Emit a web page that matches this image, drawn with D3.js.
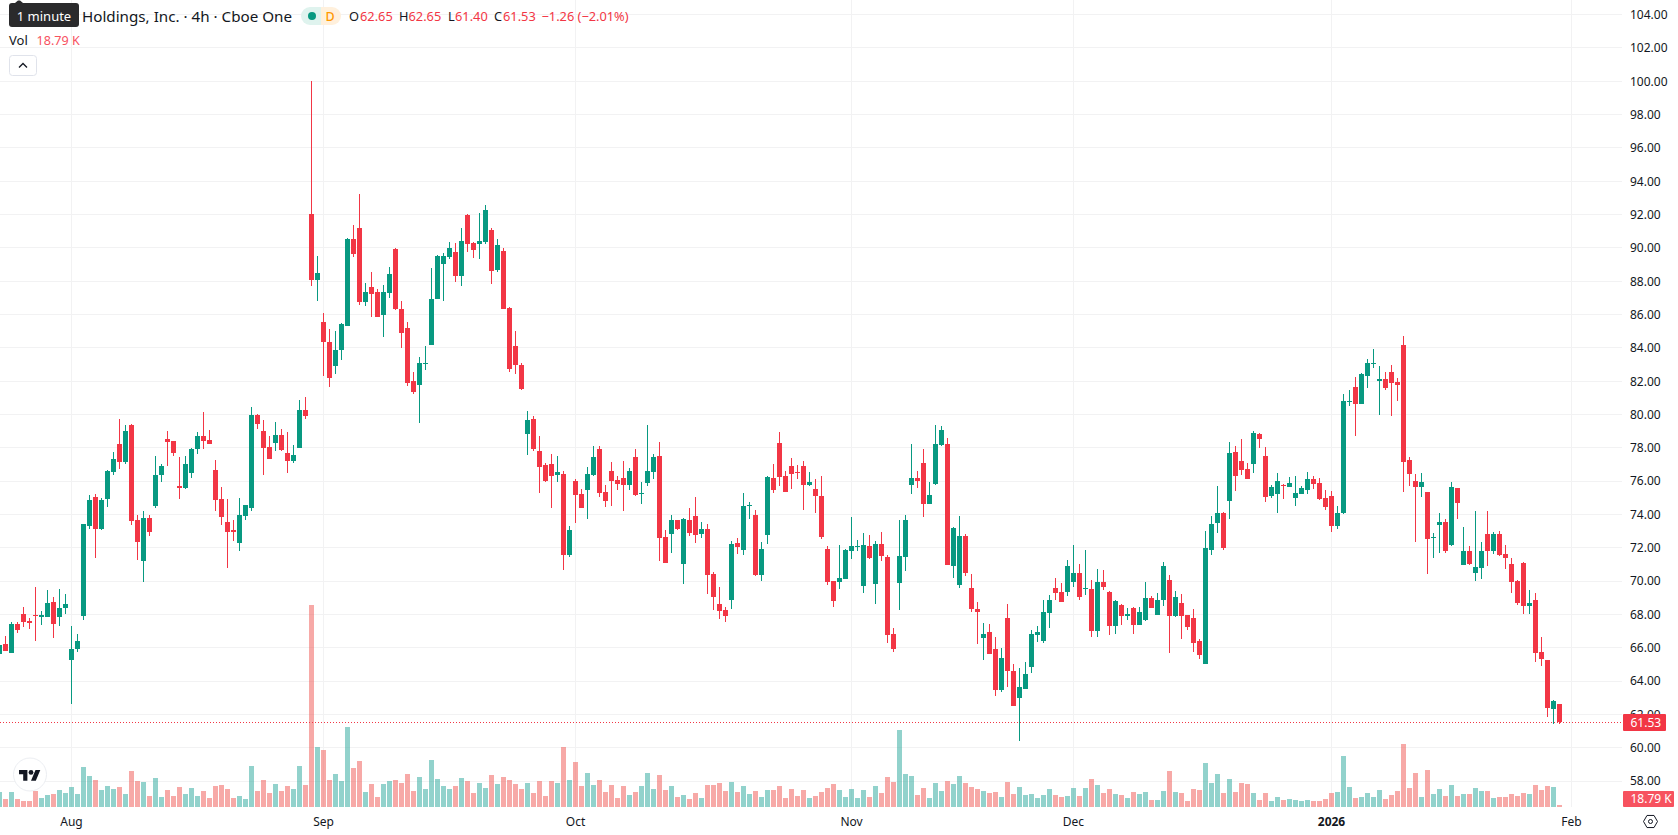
<!DOCTYPE html>
<html>
<head>
<meta charset="utf-8">
<script src="https://d3js.org/d3.v7.min.js"></script>
<style>
  html, body { margin: 0; padding: 0; background: #fff; overflow: hidden; }
  svg { display: block; }
  text { font-family: "Noto Sans", sans-serif; fill: #131722; }
</style>
</head>
<body>
<svg id="chart" width="1678" height="835"></svg>
<script>
// Four-hour candles, oldest first
const opens = [
  65.62,66.22,65.68,67.42,68.02,67.60,67.96,67.84,67.84,68.74,
  67.84,68.38,65.26,65.92,67.90,73.30,75.04,73.12,74.92,76.54,
  78.22,77.14,79.36,73.66,71.20,73.78,74.50,76.36,78.52,78.40,
  75.70,75.58,76.48,77.92,78.70,78.46,76.66,74.92,73.54,73.06,
  72.28,73.90,74.38,79.96,79.00,78.04,78.28,78.76,77.68,77.20,
  77.98,80.26,92.02,88.06,85.54,84.34,82.90,83.86,85.30,90.52,
  91.18,86.74,87.64,87.34,85.96,87.28,89.92,86.32,85.18,82.00,
  81.76,83.04,84.16,86.92,89.02,89.44,89.74,88.30,91.96,90.28,
  90.22,90.34,91.06,88.66,89.80,86.38,84.10,82.96,78.82,79.72,
  77.80,76.96,77.02,76.36,76.42,71.56,76.00,75.22,75.46,76.36,
  77.92,75.34,76.60,76.06,76.18,75.76,77.44,75.22,75.88,76.54,
  77.50,72.64,72.82,73.66,71.02,73.66,73.90,72.82,73.12,70.42,
  68.62,68.26,68.86,72.28,71.86,74.52,73.96,70.36,72.76,76.18,
  78.28,76.30,76.90,76.54,76.90,75.76,75.52,75.10,71.92,70.00,
  69.94,70.12,71.80,72.06,69.70,72.10,69.82,72.22,71.44,66.82,
  69.88,71.44,75.76,76.18,77.08,74.62,75.82,78.16,78.22,70.90,
  69.76,72.70,69.58,68.32,66.58,66.94,65.92,63.46,67.78,64.60,
  62.98,63.52,64.84,66.76,66.40,68.08,69.58,69.34,69.34,69.94,
  70.48,69.52,69.52,67.00,69.94,69.34,67.30,68.56,67.90,68.38,
  67.36,67.66,68.98,67.96,68.86,70.06,67.90,68.68,67.96,67.78,
  66.40,65.02,71.86,73.48,74.08,74.80,77.74,77.20,76.72,77.02,
  78.82,77.50,75.10,75.22,75.76,75.64,74.98,75.22,75.46,76.12,
  75.88,74.98,75.10,73.30,74.08,80.74,81.64,80.62,82.30,83.02,
  82.00,82.12,82.54,81.94,84.16,77.26,76.00,75.64,75.34,72.58,
  73.36,73.54,72.16,75.58,70.96,71.80,70.48,70.78,72.82,71.80,
  72.82,71.62,71.02,70.00,71.08,68.50,68.86,65.74,65.26,62.32,
  62.65
];
const highs = [
  66.20,66.70,67.54,67.54,68.44,67.78,69.64,68.20,69.46,69.04,
  69.52,69.22,67.30,66.82,73.42,75.16,75.22,74.98,76.66,77.74,
  79.72,79.36,79.42,73.96,74.20,73.96,77.50,77.02,79.00,78.40,
  77.44,77.50,77.98,78.94,80.14,79.06,77.26,75.64,74.92,73.66,
  74.98,74.56,80.44,80.02,79.66,78.70,79.54,79.12,78.94,78.16,
  80.86,81.04,100.00,89.50,86.08,85.12,85.00,85.48,90.58,91.36,
  93.22,87.88,88.54,87.52,87.76,88.84,89.98,86.80,85.54,82.54,
  83.44,84.10,88.78,89.56,89.68,90.34,90.28,91.18,92.02,90.34,
  92.08,92.56,91.18,90.52,89.98,86.44,85.00,83.08,80.20,79.90,
  78.70,77.08,77.62,77.50,76.60,73.30,76.12,75.52,76.84,78.10,
  78.10,75.76,77.14,76.30,77.20,76.78,77.92,75.94,79.36,77.62,
  78.34,73.06,73.96,73.66,73.78,74.38,75.04,73.54,73.42,70.54,
  69.64,68.44,72.40,72.58,75.28,74.74,74.26,72.34,76.30,77.02,
  78.94,76.60,77.38,76.96,77.20,76.54,76.12,76.30,72.10,70.00,
  72.16,71.92,73.84,72.46,72.88,72.76,72.40,72.94,71.56,67.18,
  73.66,73.96,78.22,76.60,77.92,75.94,79.36,79.30,78.58,73.24,
  73.90,72.82,70.42,68.74,67.48,67.42,66.64,65.98,68.62,65.02,
  64.78,65.14,67.06,67.30,68.86,69.16,70.18,69.88,71.26,72.16,
  71.02,71.86,70.06,70.72,70.66,69.40,68.86,68.62,68.38,68.44,
  68.44,69.94,69.10,69.28,71.14,70.36,69.40,69.22,67.96,68.32,
  66.52,73.00,73.90,75.70,74.14,78.34,78.10,78.52,77.08,79.00,
  78.88,78.04,75.76,76.48,75.82,76.24,76.30,75.70,76.54,76.30,
  76.18,75.46,75.40,74.50,81.22,81.46,82.24,82.48,83.32,83.92,
  82.90,82.54,82.96,82.18,84.70,77.44,76.42,76.48,75.34,72.88,
  74.08,73.72,75.94,75.58,73.24,72.10,74.20,72.34,74.20,72.94,
  73.00,72.16,71.38,70.06,71.14,69.46,69.28,66.64,65.26,62.86,
  62.65
];
const lows = [
  65.60,65.80,65.68,66.88,67.24,67.12,66.40,67.36,67.84,66.58,
  67.30,68.02,62.62,65.74,67.66,73.12,71.38,73.06,74.44,76.36,
  76.72,77.02,73.36,71.26,69.94,72.70,74.38,75.94,76.90,77.50,
  74.92,75.52,76.18,77.62,77.92,78.22,74.20,73.36,70.78,72.40,
  71.80,73.66,74.20,79.12,76.36,77.32,77.80,77.80,76.48,77.08,
  77.98,79.72,87.70,86.80,82.30,81.64,82.42,83.26,85.30,89.44,
  86.56,86.50,85.84,85.84,84.64,86.98,86.26,83.98,81.70,81.22,
  79.48,82.66,84.16,86.92,86.80,89.32,87.94,87.70,89.74,89.38,
  89.32,90.22,87.82,88.54,86.32,82.54,82.42,81.46,77.56,77.80,
  75.28,75.94,74.38,75.94,70.66,71.44,73.48,74.38,73.72,76.30,
  75.04,74.44,74.50,75.46,74.20,75.46,75.10,74.62,75.70,76.12,
  71.20,71.08,71.68,73.06,69.82,72.70,72.28,72.58,69.22,68.26,
  67.72,67.54,68.32,71.62,71.56,73.72,70.30,70.00,72.22,75.28,
  75.70,75.34,75.52,76.12,74.26,75.70,74.08,72.52,69.76,68.44,
  69.52,70.12,71.32,71.80,69.28,71.32,68.62,71.20,66.28,65.74,
  68.26,70.60,75.22,75.58,73.84,74.62,75.76,78.10,70.96,70.18,
  69.58,70.30,68.14,66.22,65.26,65.62,63.10,63.34,63.64,62.50,
  60.40,63.52,64.48,66.34,66.28,67.18,68.86,68.74,69.10,69.64,
  68.86,69.16,66.64,66.64,69.46,66.76,66.82,67.36,67.66,66.82,
  67.36,67.60,68.38,67.96,68.50,65.68,67.84,66.52,67.06,65.74,
  65.32,65.02,71.56,72.88,71.86,73.72,75.40,76.36,76.12,76.48,
  77.98,74.74,74.98,74.08,74.92,75.64,74.50,75.22,75.22,75.52,
  74.86,74.26,72.94,73.12,74.02,80.50,78.70,80.62,81.58,82.78,
  79.96,81.46,79.90,80.80,75.34,75.70,72.34,75.04,70.42,71.38,
  71.68,71.68,72.10,73.72,70.96,70.96,70.00,70.12,70.90,71.62,
  71.50,70.72,69.28,68.56,68.02,68.02,65.14,64.90,61.84,61.42,
  61.40
];
const closes = [
  66.16,65.80,67.42,67.06,67.54,67.48,67.90,67.96,68.68,67.42,
  68.38,68.62,65.92,66.40,73.42,74.86,73.12,74.86,76.60,77.32,
  77.14,79.00,73.60,72.34,73.78,72.94,76.36,76.90,78.34,77.68,
  75.58,77.02,77.92,78.70,78.40,78.22,74.86,73.84,72.94,72.94,
  73.96,74.56,79.96,79.42,77.98,77.32,78.76,77.86,77.20,77.56,
  80.26,79.90,88.06,88.48,84.34,82.18,83.86,85.42,90.52,89.62,
  86.74,87.34,87.22,85.84,87.34,88.42,86.32,84.88,81.88,81.34,
  83.08,83.08,86.92,89.50,89.50,89.98,88.30,90.40,90.22,89.86,
  90.40,92.26,88.60,90.16,86.32,82.72,82.96,81.52,79.66,77.92,
  76.84,76.00,76.30,76.54,71.56,73.06,75.16,74.38,76.42,77.44,
  75.28,74.80,76.00,75.82,75.76,76.60,75.16,75.28,76.60,77.44,
  72.58,71.08,73.66,73.12,73.72,72.88,72.76,73.12,70.36,69.04,
  68.20,67.90,72.22,72.04,74.50,74.56,70.36,71.92,76.24,75.46,
  76.24,75.34,76.42,76.50,75.76,75.94,75.10,72.64,69.94,68.80,
  70.18,71.86,72.10,72.10,72.16,71.38,72.22,71.50,66.76,65.92,
  71.50,73.66,76.18,76.00,74.62,75.16,78.22,79.06,70.96,73.18,
  72.70,70.48,68.32,68.14,66.82,65.62,63.46,65.38,64.60,62.50,
  63.64,64.42,66.82,66.94,68.14,68.86,69.28,68.74,70.90,70.48,
  69.04,69.58,67.00,69.94,69.64,67.30,68.80,67.90,68.02,67.36,
  68.14,68.98,68.38,68.86,70.90,67.90,69.04,67.90,67.24,66.28,
  65.56,71.98,73.42,74.08,71.98,77.68,76.30,76.66,76.12,78.88,
  78.52,75.04,75.64,76.00,75.70,75.88,75.28,75.58,76.12,75.82,
  74.92,74.44,73.30,74.08,80.80,80.80,80.62,82.42,83.08,83.08,
  82.12,81.58,81.88,81.76,77.14,76.42,75.64,75.94,72.52,72.64,
  73.54,71.80,75.64,74.68,71.80,71.02,70.84,71.80,71.80,72.82,
  71.56,71.38,69.94,68.68,68.50,68.68,65.68,65.32,62.38,62.79,
  61.53
];
// Volume per candle, in thousands of shares
const volumes = [
  141,75,141,75,56,56,150,85,113,122,
  160,131,188,122,376,291,254,160,197,169,
  188,122,338,244,235,103,272,94,160,103,
  188,122,178,103,150,85,197,207,169,85,
  103,75,385,150,254,131,216,150,197,169,
  385,207,1897,563,535,254,310,244,751,366,
  432,141,216,94,216,244,254,225,310,150,
  282,169,441,263,197,169,197,272,244,131,
  225,178,300,216,282,254,216,169,225,131,
  244,103,244,225,563,254,423,197,319,207,
  254,141,207,85,197,113,141,197,319,169,
  300,160,197,94,113,75,131,85,207,207,
  225,150,235,141,197,122,150,94,160,160,
  197,85,169,103,160,85,103,141,178,216,
  160,94,169,85,160,94,197,131,282,235,
  723,310,291,113,178,85,225,150,244,216,
  291,225,188,169,150,131,141,94,235,122,
  188,113,122,85,113,169,113,94,103,178,
  103,178,263,207,131,169,122,113,85,141,
  122,141,66,66,150,338,141,131,56,169,
  160,413,225,310,131,263,141,225,216,131,
  66,131,56,94,66,75,66,56,66,56,
  56,75,131,141,479,188,85,94,131,94,
  160,75,113,150,592,178,319,94,347,122,
  169,103,207,103,122,122,178,150,150,85,
  94,94,122,103,131,122,207,160,197,188,
  18.79
];

// Time axis: label and the candle slot it sits on
const monthLabels  = ["Aug", "Sep", "Oct", "Nov", "Dec", "2026", "Feb"];
const monthIndexes = [12, 54, 96, 142, 179, 222, 262];
const priceTicks = d3.range(58, 105, 2);

const lastPrice = closes[closes.length - 1];
const lastVolumeLabel = "18.79 K";

const UP = "#089981", DOWN = "#f23645";
const GRID = "#f2f2f3";
const paneRight = 1622, paneBottom = 807;

const x = d3.scaleLinear().domain([0, 260]).range([-0.5, 1559.5]);
const y = d3.scaleLinear().domain([60, 80]).range([747.7, 414.5]);
const yVol = d3.scaleLinear().domain([0, 1897]).range([paneBottom, 605]);

const svg = d3.select("#chart");
const snap = v => Math.floor(v) + 0.5;

// Grid
const grid = svg.append("g").attr("shape-rendering", "crispEdges")
  .attr("stroke", GRID).attr("stroke-width", 1);
grid.selectAll("line.h").data(priceTicks).join("line")
  .attr("x1", 0).attr("x2", paneRight)
  .attr("y1", d => snap(y(d))).attr("y2", d => snap(y(d)));
grid.selectAll("line.v").data(monthIndexes).join("line")
  .attr("x1", d => snap(x(d))).attr("x2", d => snap(x(d)))
  .attr("y1", 0).attr("y2", paneBottom);

// Volume histogram
const isUp = i => closes[i] >= opens[i];
svg.append("g").attr("shape-rendering", "crispEdges")
  .selectAll("rect").data(volumes).join("rect")
  .attr("x", (d, i) => x(i) - 2.5).attr("width", 5)
  .attr("y", d => yVol(d)).attr("height", d => paneBottom - yVol(d))
  .attr("fill", (d, i) => isUp(i) ? "#26a69a" : "#ef5350")
  .attr("fill-opacity", 0.5);

// Candles
const candles = svg.append("g").attr("shape-rendering", "crispEdges")
  .selectAll("g").data(d3.range(opens.length)).join("g")
  .attr("fill", i => isUp(i) ? UP : DOWN);
candles.append("rect")
  .attr("x", i => x(i) - 0.5).attr("width", 1)
  .attr("y", i => y(highs[i])).attr("height", i => y(lows[i]) - y(highs[i]));
candles.append("rect")
  .attr("x", i => x(i) - 2.5).attr("width", 5)
  .attr("y", i => y(Math.max(opens[i], closes[i])))
  .attr("height", i => Math.max(1, Math.abs(y(opens[i]) - y(closes[i]))));

// Last price line
svg.append("line")
  .attr("x1", 0).attr("x2", paneRight)
  .attr("y1", snap(y(lastPrice))).attr("y2", snap(y(lastPrice)))
  .attr("stroke", DOWN).attr("stroke-width", 1)
  .attr("stroke-dasharray", "1 2");

// Price axis
const priceAxis = svg.append("g")
  .attr("transform", `translate(1630,0)`)
  .call(d3.axisRight(y).tickValues(priceTicks).tickSize(0).tickPadding(0)
    .tickFormat(d3.format(".2f")));
priceAxis.select(".domain").remove();
priceAxis.selectAll("text").attr("font-size", 12).attr("fill", "#131722")
  .style("font-family", "'Noto Sans', sans-serif");

// Time axis labels
const timeAxis = svg.append("g");
timeAxis.selectAll("text").data(monthLabels).join("text")
  .attr("x", (d, i) => x(monthIndexes[i]))
  .attr("y", 825.5)
  .attr("text-anchor", "middle")
  .attr("font-size", 12)
  .attr("font-weight", d => d === "2026" ? 700 : 400)
  .text(d => d);

// Axis value tags
const tags = [
  { label: lastPrice.toFixed(2), y: 714, h: 17, w: 43, fill: DOWN },
  { label: lastVolumeLabel, y: 791, h: 16, w: 51, fill: "#f7525f" }
];
const tagG = svg.append("g").selectAll("g").data(tags).join("g");
tagG.append("rect")
  .attr("x", 1623).attr("y", d => d.y).attr("width", d => d.w).attr("height", d => d.h)
  .attr("rx", 1).attr("fill", d => d.fill);
tagG.append("text")
  .attr("x", 1630.5).attr("y", d => d.y + d.h / 2 + 4.2)
  .attr("font-size", 12).style("fill", "#fff")
  .text(d => d.label);

// Settings hexagon under the price axis
const hexR = 7;
const hexPoints = d3.range(6).map(k => {
  const a = Math.PI / 3 * k;
  return [1650.5 + hexR * Math.cos(a), 821.5 + hexR * Math.sin(a)];
});
svg.append("polygon").attr("points", hexPoints.join(" "))
  .attr("fill", "none").attr("stroke", "#131722").attr("stroke-width", 1);
svg.append("circle").attr("cx", 1650.5).attr("cy", 821.5).attr("r", 2)
  .attr("fill", "none").attr("stroke", "#131722").attr("stroke-width", 1);

// Logo badge
svg.append("circle").attr("cx", 30).attr("cy", 774.5).attr("r", 16.5)
  .attr("fill", "#fff").attr("stroke", "#eceef2").attr("stroke-width", 1);
const logo = svg.append("g").attr("transform", "translate(19,767.6) scale(0.6)").attr("fill", "#131722");
logo.append("path").attr("d", "M14 22H7V11H0V4h14v18zM28 22h-8l7.5-18h8L28 22z");
logo.append("circle").attr("cx", 20).attr("cy", 8).attr("r", 4);

// Legend: symbol line
svg.append("text").attr("x", 82).attr("y", 21.5).attr("font-size", 15.2)
  .text("Holdings, Inc. · 4h · Cboe One");

// Status pill: green half, orange half
svg.append("path").attr("d", "M321 7H310a9 9 0 0 0 0 18H321Z").attr("fill", "#dff3ee");
svg.append("path").attr("d", "M321 7H332a9 9 0 0 1 0 18H321Z").attr("fill", "#fff0dc");
svg.append("circle").attr("cx", 312).attr("cy", 16).attr("r", 4).attr("fill", UP);
svg.append("text").attr("x", 330).attr("y", 20.5).attr("font-size", 12.5).attr("font-weight", 500)
  .attr("text-anchor", "middle").style("fill", "#ff9800").text("D");

const legendOhlc = [
  { key: "O", kx: 349, vx: 360, v: "62.65" },
  { key: "H", kx: 399, vx: 408.5, v: "62.65" },
  { key: "L", kx: 448, vx: 455, v: "61.40" },
  { key: "C", kx: 494, vx: 503, v: "61.53" }
];
legendOhlc.forEach(o => {
  svg.append("text").attr("x", o.kx).attr("y", 20.5).attr("font-size", 12.8).text(o.key);
  svg.append("text").attr("x", o.vx).attr("y", 20.5).attr("font-size", 12.8).style("fill", DOWN).text(o.v);
});
svg.append("text").attr("x", 541.5).attr("y", 20.5).attr("font-size", 12.8).style("fill", DOWN)
  .text("−1.26 (−2.01%)");

// Legend: volume line
svg.append("text").attr("x", 9).attr("y", 45).attr("font-size", 13).text("Vol");
svg.append("text").attr("x", 36.5).attr("y", 45).attr("font-size", 12.6).style("fill", "#f7525f").text(lastVolumeLabel);

// Collapse button
svg.append("rect").attr("x", 9.5).attr("y", 55.5).attr("width", 27).attr("height", 20).attr("rx", 3)
  .attr("fill", "#fff").attr("stroke", "#e0e3eb");
svg.append("path").attr("d", "M19 67.5l4-4 4 4").attr("fill", "none")
  .attr("stroke", "#131722").attr("stroke-width", 1.3);

// Tooltip over the symbol name
svg.append("path").attr("d", "M15 3L18 0.5H20L23 3Z").attr("fill", "#2a2a2c");
svg.append("rect").attr("x", 9).attr("y", 3).attr("width", 70).attr("height", 24).attr("rx", 3).attr("fill", "#2a2a2c");
svg.append("text").attr("x", 44).attr("y", 20.5).attr("font-size", 13).attr("text-anchor", "middle")
  .style("fill", "#fff").text("1 minute");
</script>
</body>
</html>
